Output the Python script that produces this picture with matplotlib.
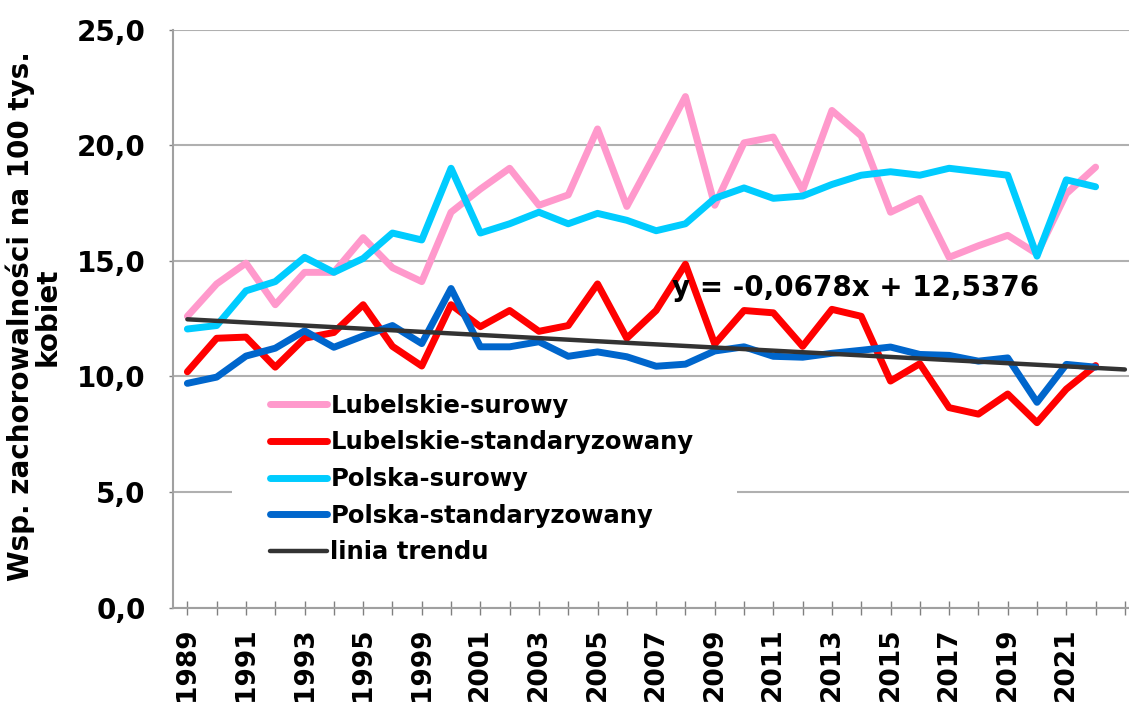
import numpy as np
import matplotlib
matplotlib.use("Agg")
import matplotlib.pyplot as plt
import matplotlib.transforms as mtransforms
from matplotlib.patches import Rectangle

# %% Data
years = ["1989", "1990", "1991", "1992", "1993", "1994", "1995", "1997",
         "1999", "2000", "2001", "2002", "2003", "2004", "2005", "2006",
         "2007", "2008", "2009", "2010", "2011", "2012", "2013", "2014",
         "2015", "2016", "2017", "2018", "2019", "2020", "2021", "2022"]

lubelskie_surowy = [12.6, 14.0, 14.9, 13.1, 14.5, 14.5, 16.0, 14.7, 14.1, 17.1,
                    18.1, 19.0, 17.4, 17.85, 20.7, 17.35, 19.7, 22.1, 17.4, 20.1,
                    20.35, 18.05, 21.5, 20.4, 17.1, 17.7, 15.15, 15.65, 16.1, 15.3,
                    17.9, 19.05]
lubelskie_std = [10.2, 11.65, 11.7, 10.4, 11.65, 11.9, 13.1, 11.3, 10.45, 13.1,
                 12.15, 12.85, 11.95, 12.2, 14.0, 11.65, 12.85, 14.85, 11.4, 12.85,
                 12.75, 11.3, 12.9, 12.6, 9.8, 10.55, 8.65, 8.37, 9.24, 8.0,
                 9.45, 10.47]
polska_surowy = [12.05, 12.2, 13.7, 14.1, 15.15, 14.5, 15.1, 16.2, 15.9, 19.0,
                 16.2, 16.6, 17.1, 16.6, 17.05, 16.75, 16.3, 16.6, 17.7, 18.15,
                 17.7, 17.8, 18.3, 18.7, 18.85, 18.7, 19.0, 18.85, 18.7, 15.2,
                 18.5, 18.2]
polska_std = [9.7, 9.97, 10.88, 11.22, 11.97, 11.26, 11.75, 12.2, 11.42, 13.8,
              11.28, 11.28, 11.5, 10.87, 11.06, 10.85, 10.44, 10.53, 11.1, 11.28,
              10.87, 10.83, 11.0, 11.13, 11.27, 10.95, 10.91, 10.66, 10.8, 8.88,
              10.52, 10.4]

# trend line (Excel linear trend, forecast 1 period forward)
slope = -0.0678
intercept = 12.5376
trend_periods = 33

series_labels = ["Lubelskie-surowy", "Lubelskie-standaryzowany",
                 "Polska-surowy", "Polska-standaryzowany", "linia trendu"]
colors = ["#FF99CC", "#FF0000", "#00CCFF", "#0066CC", "#333333"]

# %% Figure
fig = plt.figure(figsize=(11.29, 7.11), dpi=100)
ax = fig.add_axes([0.1535, 0.1453, 0.8465, 0.8132])

x = np.arange(len(years))
for vals, lab, col in zip([lubelskie_surowy, lubelskie_std, polska_surowy, polska_std],
                          series_labels[:4], colors[:4]):
    ax.plot(x, vals, color=col, lw=5, label=lab, solid_capstyle="round",
            solid_joinstyle="round", zorder=3)

t = np.arange(1, trend_periods + 1)
ax.plot(t - 1, slope * t + intercept, color=colors[4], lw=3.2, label=series_labels[4],
        solid_capstyle="round", zorder=4)

ax.text(16.55, 13.82, "y = -0,0678x + 12,5376", fontsize=20, fontweight="bold",
        ha="left", va="center", zorder=5)

# axes styling
ax.set_ylim(0, 25)
ax.set_xlim(-0.48, 32.14)
ax.set_yticks(np.arange(0, 26, 5))
ax.set_yticklabels([f"{v:.1f}".replace(".", ",") for v in np.arange(0, 26, 5)],
                   fontsize=20, fontweight="bold")
ax.set_xticks(np.arange(trend_periods))
ax.set_xticklabels([years[i] if (i % 2 == 0 and i < len(years)) else "" for i in range(trend_periods)],
                   rotation=90, fontsize=19, fontweight="bold")
ax.tick_params(axis="x", direction="inout", length=10, width=1, color="#808080", pad=9)
ax.tick_params(axis="y", direction="out", length=3, width=1, color="#808080", pad=17)
ax.grid(axis="y", color="#B0B0B0", lw=1.5)
ax.set_axisbelow(True)
for s in ["top", "right"]:
    ax.spines[s].set_visible(False)
for s in ["left", "bottom"]:
    ax.spines[s].set_color("#A0A0A0")
    ax.spines[s].set_linewidth(1.5)

# white background of the legend (hides gridline)
trans = mtransforms.blended_transform_factory(ax.transAxes, ax.transData)
ax.add_patch(Rectangle((0.0614, 1.5), 0.528, 7.5, transform=trans, facecolor="white",
                       edgecolor="none", zorder=1))

leg = ax.legend(loc="upper left", bbox_to_anchor=(0.1007, 0.370), frameon=False,
                prop={"size": 17.5, "weight": "bold"}, handlelength=2.35,
                handletextpad=0.15, labelspacing=0.52, borderpad=0, borderaxespad=0)

fig.text(0.030, 0.555, "Wsp. zachorowalności na 100 tys.\nkobiet", rotation=90,
         fontsize=20, fontweight="bold", ha="center", va="center",
         multialignment="center", linespacing=0.92)

fig.savefig("out.png", dpi=100)
